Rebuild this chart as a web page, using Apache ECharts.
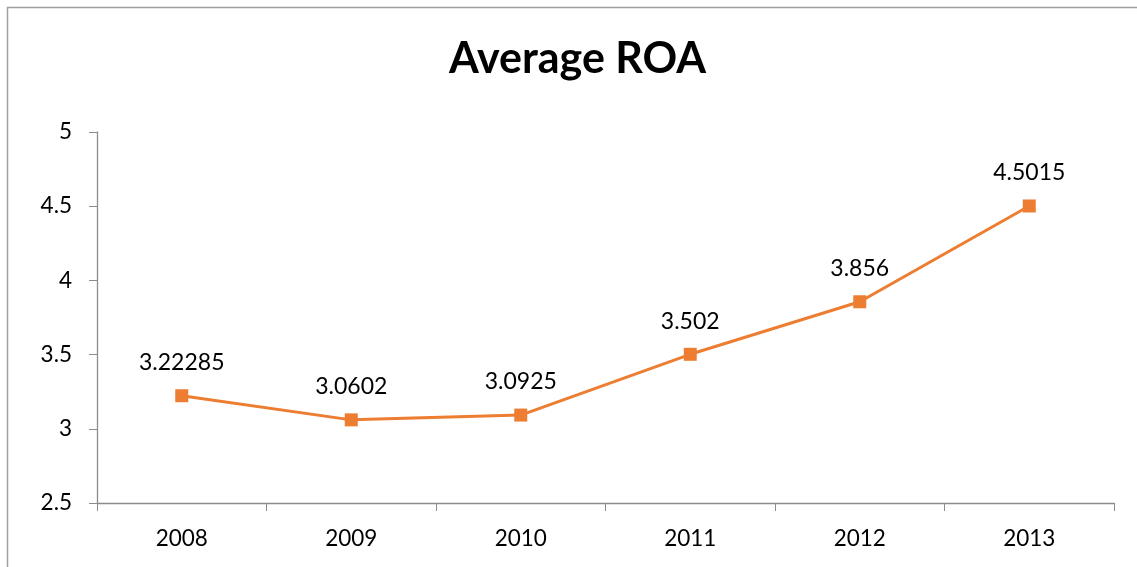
<!DOCTYPE html>
<html><head><meta charset="utf-8">
<script src="https://cdn.jsdelivr.net/npm/echarts@6/dist/echarts.min.js"></script>
<style>html,body{margin:0;padding:0;background:#fff}#c{width:1137px;height:567px}</style>
</head><body><div id="c"></div>
<script>
const categories = ['2008','2009','2010','2011','2012','2013'];
const roaValues = [3.22285, 3.0602, 3.0925, 3.502, 3.856, 4.5015];
const yTicks = {min: 2.5, max: 5, interval: 0.5};

const chart = echarts.init(document.getElementById('c'));
const font = 'Lato, "Open Sans", sans-serif';
chart.setOption({
  animation: false,
  graphic: [{type:'rect', shape:{x:7.5,y:7.5,width:1200,height:700}, style:{fill:'none', stroke:'#a0a0a0', lineWidth:1.5}}],
  title: {text:'Average ROA', left:449, top:38, padding:0, textStyle:{fontFamily:font, fontSize:43, fontWeight:'bold', color:'#000'}},
  grid: {left:97, right:23, top:132, bottom:64},
  xAxis: {type:'category', data:categories, boundaryGap:true,
    axisLine:{lineStyle:{color:'#8c8c8c', width:1.3}},
    axisTick:{show:true, alignWithLabel:false, length:8, lineStyle:{color:'#8c8c8c'}},
    axisLabel:{fontFamily:font, fontSize:22.5, color:'#000', margin:24}},
  yAxis: {type:'value', min:yTicks.min, max:yTicks.max, interval:yTicks.interval,
    axisLine:{show:true, lineStyle:{color:'#8c8c8c', width:1.3}},
    axisTick:{show:true, length:8, lineStyle:{color:'#8c8c8c'}},
    splitLine:{show:false},
    axisLabel:{fontFamily:font, fontSize:22.5, color:'#000', margin:25}},
  series: [{type:'line', data:roaValues, symbol:'rect', symbolSize:13,
    lineStyle:{color:'#ED7D31', width:3}, itemStyle:{color:'#ED7D31'},
    label:{show:true, position:'top', distance:15, fontFamily:font, fontSize:23, color:'#000',
      formatter: p => String(p.value)}}]
});
</script></body></html>
